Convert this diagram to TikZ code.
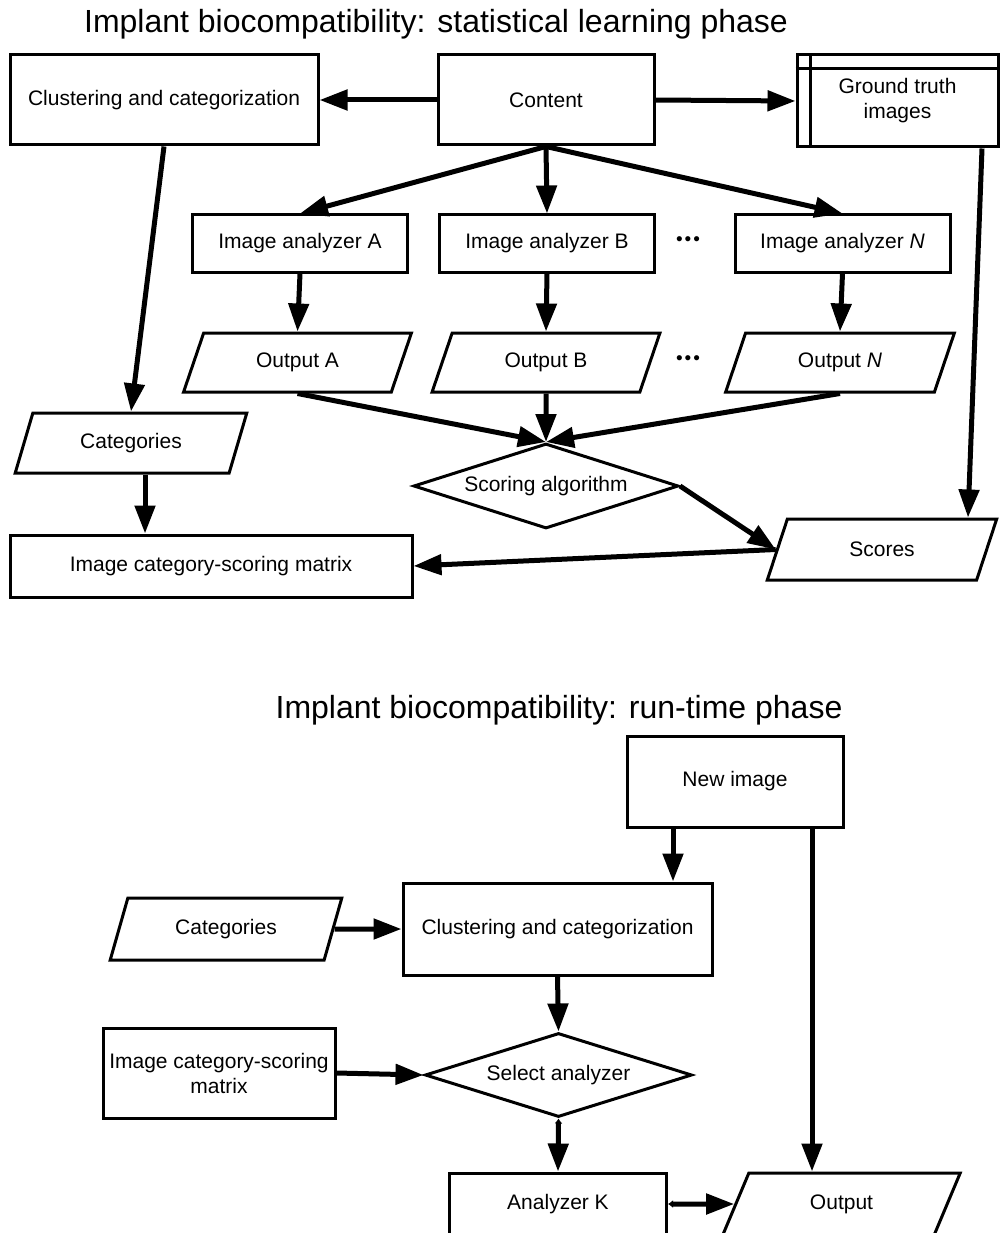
\documentclass[tikz,border=0pt]{standalone}
\usepackage{fontspec}
\setmainfont{Liberation Sans}
\usetikzlibrary{shapes.geometric}
\usetikzlibrary{arrows.meta}

\newcommand{\threedots}{{\fontsize{19}{20}\selectfont\textbullet\hspace{2pt}\textbullet\hspace{2pt}\textbullet}}

\begin{document}
\begin{tikzpicture}[x=1pt,y=1pt,yscale=-1,xscale=1,
    every node/.style={font=\fontsize{21}{25}\selectfont},
    heading/.style={font=\fontsize{32}{38}\selectfont},
    procbox/.style={rectangle,draw,line width=3pt,inner sep=0pt,align=center},
    iobox/.style={trapezium,trapezium left angle=65,trapezium right angle=115,trapezium stretches=true,draw,line width=3pt,inner sep=0pt},
    decide/.style={diamond,aspect=3.1,draw,line width=3pt,inner sep=0pt},
    flow/.style={-{Triangle[length=28pt,width=20pt]},line width=5pt},
    bothflow/.style={{Latex[length=5pt,width=8pt]}-{Triangle[length=28pt,width=20pt]},line width=5pt}]
    \clip (0,0) rectangle (1000,1233);
    \fill[white] (0,0) rectangle (1000,1233);

    %Learning phase
    \node[heading] (title1) at (436,24) {Implant biocompatibility: statistical learning phase};
    %Shape: Rectangle
    \node[procbox,minimum width=308,minimum height=90] (clust1) at (164,100) {Clustering and categorization};
    %Shape: Rectangle
    \node[procbox,minimum width=216,minimum height=90] (content) at (546,100) {Content};
    %Shape: Rectangle
    \node[procbox,minimum width=201,minimum height=92] (gt) at (897.5,101) {Ground truth\\images};
    \draw[line width=3pt] ([xshift=15pt]gt.north west) -- ([xshift=15pt]gt.south west);
    \draw[line width=3pt] ([yshift=15pt]gt.north west) -- ([yshift=15pt]gt.north east);
    %Shape: Rectangle
    \node[procbox,minimum width=215,minimum height=57] (anA) at (300,243.5) {Image analyzer A};
    \node[procbox,minimum width=215,minimum height=57] (anB) at (547,243.5) {Image analyzer B};
    \node[procbox,minimum width=215,minimum height=57] (anN) at (842.5,243.5) {Image analyzer \textit{N}};
    \node (dots1) at (688,241) {\threedots};
    %Shape: Parallelogram
    \node[iobox,minimum width=229,minimum height=59] (outA) at (297.5,362.5) {Output A};
    \node[iobox,minimum width=229,minimum height=59] (outB) at (546,362.5) {Output B};
    \node[iobox,minimum width=229,minimum height=59] (outN) at (840,362.5) {Output \textit{N}};
    \node (dots2) at (688,360) {\threedots};
    %Shape: Parallelogram
    \node[iobox,minimum width=232,minimum height=60] (cat1) at (131,443) {Categories};
    %Shape: Diamond
    \node[decide,minimum width=265,minimum height=85] (scoring) at (546,486) {Scoring algorithm};
    %Shape: Parallelogram
    \node[iobox,minimum width=230,minimum height=61] (scores) at (882,549.5) {Scores};
    %Shape: Rectangle
    \node[procbox,minimum width=402,minimum height=62] (matrix1) at (211,566) {Image category-scoring matrix};

    %Straight Lines
    \draw[flow] (content.west) -- (clust1.east);
    \draw[flow] (content.east) -- (gt.west);
    \draw[flow] (content.south) -- (anA.north);
    \draw[flow] (content.south) -- (anB.north);
    \draw[flow] (content.south) -- (anN.north);
    \draw[flow] (anA.south) -- (outA.north);
    \draw[flow] (anB.south) -- (outB.north);
    \draw[flow] (anN.south) -- (outN.north);
    \draw[flow] (outA.south) -- (scoring.north);
    \draw[flow] (outB.south) -- (scoring.north);
    \draw[flow] (outN.south) -- (scoring.north);
    \draw[flow] (scoring.east) -- (scores.west);
    \draw[flow] (scores.west) -- (matrix1.east);
    \draw[flow] (clust1.south) -- (cat1.north);
    \draw[flow] ([xshift=14pt]cat1.south) -- ([xshift=14pt]cat1.south |- matrix1.north);
    \draw[flow] ([xshift=84.5pt]gt.south) -- ([xshift=86pt]scores.north);

    %Run-time phase
    \node[heading] (title2) at (559,710) {Implant biocompatibility: run-time phase};
    %Shape: Rectangle
    \node[procbox,minimum width=216,minimum height=91] (newimg) at (735,781.5) {New image};
    \node[procbox,minimum width=309,minimum height=92] (clust2) at (557.5,929) {Clustering and categorization};
    %Shape: Parallelogram
    \node[iobox,minimum width=232,minimum height=62] (cat2) at (226,929) {Categories};
    %Shape: Rectangle
    \node[procbox,minimum width=232,minimum height=90] (matrix2) at (219,1073) {Image category-scoring\\matrix};
    %Shape: Diamond
    \node[decide,minimum width=267,minimum height=84] (select) at (558.5,1075) {Select analyzer};
    %Shape: Rectangle
    \node[procbox,minimum width=217,minimum height=62] (anK) at (558,1204) {Analyzer K};
    %Shape: Parallelogram
    \node[iobox,minimum width=239,minimum height=62] (out2) at (841.5,1204) {Output};

    %Straight Lines
    \draw[flow] ([xshift=-62pt]newimg.south) -- ([xshift=-62pt]newimg.south |- clust2.north);
    \draw[flow] ([xshift=77pt]newimg.south) -- ([xshift=77pt]newimg.south |- out2.north);
    \draw[flow] (cat2.east) -- (clust2.west);
    \draw[flow] (clust2.south) -- (select.north);
    \draw[flow] (matrix2.east) -- (select.west);
    \draw[bothflow] (select.south) -- (anK.north);
    \draw[bothflow] (anK.east) -- (out2.west);
\end{tikzpicture}
\end{document}
